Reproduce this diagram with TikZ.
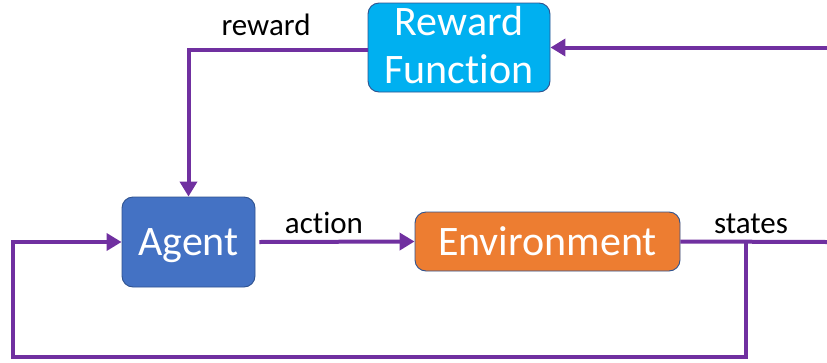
\documentclass[tikz,border=0pt]{standalone}
\usepackage{fontspec}
\setmainfont[RawFeature={-liga,-clig}]{Carlito}
\usetikzlibrary{arrows.meta}
\definecolor{flow}{HTML}{7030A0}
\definecolor{rfcol}{HTML}{00B0F0}
\definecolor{agcol}{HTML}{4472C4}
\definecolor{envcol}{HTML}{ED7D31}
\definecolor{edge}{HTML}{2F528F}
\tikzset{
  box/.style={draw=edge, line width=0.9pt, rounded corners=11pt, text=white,
    font=\fontsize{42}{48}\selectfont, inner sep=0pt, text height=27pt, text depth=0pt},
  flowline/.style={draw=flow, line width=4pt, line join=miter},
  flowarrow/.style={flowline, -{Triangle[length=15pt,width=17pt]}},
  lbl/.style={font=\fontsize{31}{36}\selectfont, text=black, anchor=base, inner sep=0pt}
}
\begin{document}
\begin{tikzpicture}[x=1pt,y=-1pt]
\useasboundingbox (0,0) rectangle (827,362);
\node[box, fill=rfcol, minimum width=182pt, minimum height=89pt, align=center, text height=75pt, text depth=4pt] (rf) at (459,47.5) {Reward\\Function};
\node[box, fill=agcol, minimum width=133pt, minimum height=90pt] (agent) at (188.5,242) {Agent};
\node[box, fill=envcol, minimum width=265pt, minimum height=59pt] (env) at (547.5,241.5) {Environment};
\coordinate (rin) at (827,47.5);
\coordinate (sout) at (827,242);
\coordinate (br) at (746,242);
\coordinate (fb1) at (746,357);
\coordinate (fb2) at (13,357);
\draw[flowline] ([yshift=-2.5pt]rf.west) -| (188.5,180);
\draw[flowarrow] (188.5,100) -- (agent.north);
\draw[flowarrow] (rin) -- (rf.east);
\draw[flowarrow] ([xshift=4pt]agent.east) -- (env.west);
\draw[flowline] (env.east) -- (sout);
\draw[flowarrow] (br) -- (fb1) -- (fb2) |- (agent.west);
\node[lbl] (lr) at (266,35) {reward};
\node[lbl] (la) at (324,233) {action};
\node[lbl] (ls) at (751,233) {states};
\end{tikzpicture}
\end{document}
